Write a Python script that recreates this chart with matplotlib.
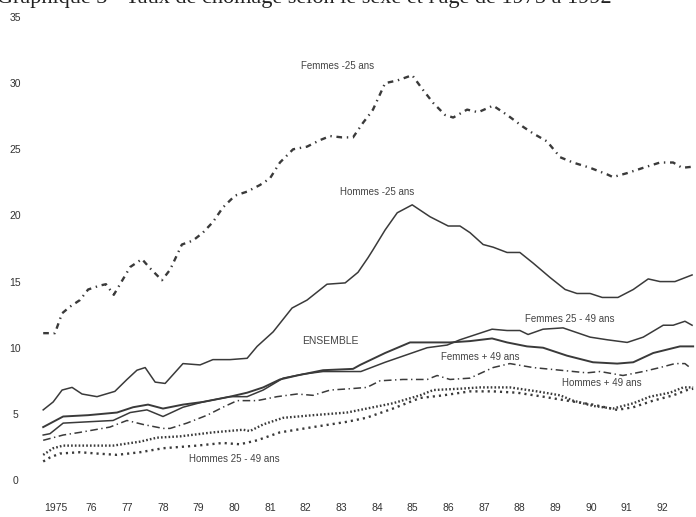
import matplotlib
matplotlib.use("Agg")
import matplotlib.pyplot as plt

plt.rcParams.update({
    "font.family": ["Liberation Sans", "DejaVu Sans"],
})

INK = "#3a3a3a"

# Taux de chomage (%) - lecture du graphique, x en annees
YEAR_TICKS = list(range(1975, 1993))
YEAR_LABELS = ["1975"] + [f"{y % 100:02d}" for y in range(1976, 1993)]
Y_TICKS = [0, 5, 10, 15, 20, 25, 30, 35]

femmes_m25_x = [1974.64, 1974.97, 1975.17, 1975.39, 1975.67, 1975.90, 1976.23, 1976.40,
                1976.62, 1977.08, 1977.41, 1977.64, 1977.97, 1978.20, 1978.53, 1978.84,
                1979.12, 1979.40, 1979.68, 1980.02, 1980.36, 1980.72, 1981.00, 1981.28,
                1981.65, 1982.04, 1982.41, 1982.69, 1983.02, 1983.33, 1983.61, 1983.81,
                1983.89, 1984.23, 1984.57, 1984.99, 1985.29, 1985.58, 1985.91, 1986.14,
                1986.53, 1986.84, 1987.26, 1987.65, 1988.10, 1988.38, 1988.77, 1989.14,
                1989.50, 1989.98, 1990.46, 1990.62, 1991.02, 1991.47, 1991.94, 1992.31,
                1992.56, 1992.92]
femmes_m25_y = [11.1, 11.1, 12.6, 13.1, 13.6, 14.4, 14.7, 14.8,
                14.0, 16.1, 16.7, 16.0, 15.1, 15.9, 17.8, 18.1,
                18.7, 19.5, 20.6, 21.5, 21.8, 22.3, 22.8, 24.0,
                25.0, 25.2, 25.7, 26.0, 25.9, 25.9, 27.0, 27.7,
                28.0, 30.0, 30.2, 30.6, 29.5, 28.5, 27.6, 27.4,
                28.0, 27.8, 28.3, 27.6, 26.7, 26.2, 25.6, 24.4,
                24.0, 23.6, 23.1, 22.9, 23.2, 23.6, 24.0, 24.0,
                23.6, 23.7]

hommes_m25_x = [1974.64, 1974.92, 1975.17, 1975.45, 1975.73, 1976.15, 1976.65, 1976.99,
                1977.27, 1977.50, 1977.78, 1978.06, 1978.56, 1979.04, 1979.40, 1979.88,
                1980.36, 1980.64, 1981.09, 1981.62, 1982.04, 1982.60, 1983.11, 1983.47,
                1983.75, 1983.89, 1984.23, 1984.57, 1984.99, 1985.49, 1986.00, 1986.33,
                1986.61, 1986.98, 1987.26, 1987.65, 1988.01, 1988.38, 1988.86, 1989.28,
                1989.61, 1989.98, 1990.32, 1990.76, 1991.19, 1991.61, 1991.94, 1992.36,
                1992.84]
hommes_m25_y = [5.3, 5.9, 6.8, 7.0, 6.5, 6.3, 6.7, 7.6,
                8.3, 8.5, 7.4, 7.3, 8.8, 8.7, 9.1, 9.1,
                9.2, 10.1, 11.2, 13.0, 13.6, 14.8, 14.9, 15.7,
                16.8, 17.4, 18.9, 20.2, 20.8, 19.9, 19.2, 19.2,
                18.7, 17.8, 17.6, 17.2, 17.2, 16.4, 15.3, 14.4,
                14.1, 14.1, 13.8, 13.8, 14.4, 15.2, 15.0, 15.0,
                15.5]

ensemble_x = [1974.64, 1975.20, 1975.90, 1976.71, 1977.16, 1977.58, 1978.00, 1978.56,
              1979.12, 1979.88, 1980.36, 1980.81, 1981.28, 1981.76, 1982.49, 1983.33,
              1983.53, 1984.23, 1984.93, 1986.05, 1986.61, 1987.23, 1987.65, 1988.21,
              1988.66, 1989.33, 1990.06, 1990.74, 1991.19, 1991.75, 1992.50, 1992.87]
ensemble_y = [4.0, 4.8, 4.9, 5.1, 5.5, 5.7, 5.4, 5.7,
              5.9, 6.3, 6.6, 7.0, 7.6, 7.9, 8.3, 8.4,
              8.7, 9.6, 10.4, 10.4, 10.5, 10.7, 10.4, 10.1,
              10.0, 9.4, 8.9, 8.8, 8.9, 9.6, 10.1, 10.1]

femmes_2549_x = [1974.64, 1974.83, 1975.20, 1976.60, 1977.08, 1977.55, 1978.00, 1978.56,
                 1979.12, 1979.88, 1980.36, 1980.81, 1981.37, 1981.93, 1982.49, 1983.55,
                 1984.23, 1985.41, 1985.97, 1986.33, 1987.23, 1987.65, 1988.01, 1988.24,
                 1988.66, 1989.22, 1989.98, 1990.46, 1991.02, 1991.47, 1992.03, 1992.31,
                 1992.64, 1992.84]
femmes_2549_y = [3.4, 3.5, 4.3, 4.5, 5.1, 5.3, 4.8, 5.5,
                 5.9, 6.3, 6.3, 6.8, 7.7, 8.0, 8.2, 8.2,
                 8.9, 10.0, 10.2, 10.6, 11.4, 11.3, 11.3, 11.0,
                 11.4, 11.5, 10.8, 10.6, 10.4, 10.8, 11.7, 11.7,
                 12.0, 11.7]

femmes_p49_x = [1974.64, 1975.20, 1975.67, 1976.51, 1976.99, 1977.44, 1978.00, 1978.20,
                1978.67, 1979.24, 1979.68, 1980.08, 1980.64, 1981.20, 1981.76, 1982.21,
                1982.69, 1983.25, 1983.72, 1984.09, 1984.73, 1985.41, 1985.69, 1986.05,
                1986.61, 1987.26, 1987.73, 1988.38, 1989.14, 1989.89, 1990.26, 1990.90,
                1991.47, 1991.94, 1992.36, 1992.64, 1992.78]
femmes_p49_y = [3.0, 3.4, 3.6, 4.0, 4.5, 4.2, 3.9, 3.9,
                4.3, 4.9, 5.5, 6.0, 6.0, 6.3, 6.5, 6.4,
                6.8, 6.9, 7.0, 7.5, 7.6, 7.6, 7.9, 7.6,
                7.7, 8.5, 8.8, 8.5, 8.3, 8.1, 8.2, 7.9,
                8.2, 8.5, 8.8, 8.8, 8.5]

hommes_p49_x = [1974.64, 1974.92, 1975.20, 1975.67, 1976.60, 1977.36, 1977.83, 1978.48,
                1979.40, 1980.25, 1980.44, 1980.81, 1981.37, 1982.21, 1983.16, 1983.53,
                1984.45, 1985.21, 1985.58, 1986.33, 1986.89, 1987.73, 1988.49, 1989.14,
                1989.50, 1990.06, 1990.62, 1991.19, 1991.66, 1992.22, 1992.59, 1992.87]
hommes_p49_y = [1.9, 2.4, 2.6, 2.6, 2.6, 2.9, 3.2, 3.3,
                3.6, 3.8, 3.7, 4.2, 4.7, 4.9, 5.1, 5.3,
                5.8, 6.4, 6.8, 6.9, 7.0, 7.0, 6.7, 6.4,
                6.0, 5.6, 5.4, 5.8, 6.3, 6.6, 7.0, 7.0]

hommes_2549_x = [1974.64, 1974.83, 1975.11, 1975.67, 1976.15, 1976.71, 1977.36, 1978.00,
                 1978.96, 1979.68, 1980.16, 1980.64, 1981.28, 1982.21, 1983.16, 1983.70,
                 1984.45, 1985.21, 1985.86, 1986.61, 1987.26, 1987.93, 1988.66, 1989.33,
                 1990.06, 1990.74, 1991.19, 1991.75, 1992.31, 1992.70, 1992.87]
hommes_2549_y = [1.4, 1.7, 2.0, 2.1, 2.0, 1.9, 2.1, 2.4,
                 2.6, 2.8, 2.7, 3.0, 3.6, 4.0, 4.4, 4.7,
                 5.4, 6.2, 6.4, 6.7, 6.7, 6.6, 6.3, 6.0,
                 5.7, 5.3, 5.5, 6.0, 6.4, 6.8, 6.9]

fig = plt.figure(figsize=(6.96, 5.17), dpi=100)
ax = fig.add_axes([30 / 696, 37 / 517, 666 / 696, 463 / 517])

ax.plot(femmes_m25_x, femmes_m25_y, color=INK, lw=1.7,
        linestyle=(0, (2.4, 2.0, 0.6, 2.0)))
ax.plot(hommes_m25_x, hommes_m25_y, color=INK, lw=1.1)
ax.plot(ensemble_x, ensemble_y, color=INK, lw=1.4)
ax.plot(femmes_2549_x, femmes_2549_y, color=INK, lw=1.1)
ax.plot(femmes_p49_x, femmes_p49_y, color=INK, lw=1.1,
        linestyle=(0, (5, 2.3, 0.9, 2.3)))
ax.plot(hommes_p49_x, hommes_p49_y, color=INK, lw=1.7,
        linestyle=(0, (0.7, 0.9)))
ax.plot(hommes_2549_x, hommes_2549_y, color=INK, lw=1.7,
        linestyle=(0, (0.9, 1.7)))

lab = dict(color="#444444", fontsize=7, ha="center", va="center")
ax.text(1982.9, 31.3, "Femmes -25 ans", **lab)
ax.text(1984.0, 21.8, "Hommes -25 ans", **lab)
ax.text(1982.7, 10.5, "ENSEMBLE", color="#444444", fontsize=7.5, ha="center", va="center")
ax.text(1989.4, 12.2, "Femmes 25 - 49 ans", **lab)
ax.text(1986.9, 9.3, "Femmes + 49 ans", **lab)
ax.text(1990.3, 7.3, "Hommes + 49 ans", **lab)
ax.text(1980.0, 1.6, "Hommes 25 - 49 ans", **lab)

ax.set_xlim(1974.27, 1992.95)
ax.set_ylim(0, 35)
ax.set_xticks(YEAR_TICKS)
ax.set_xticklabels(YEAR_LABELS)
ax.set_yticks(Y_TICKS)
ax.tick_params(axis="both", length=0, labelsize=7.5, labelcolor="#333333")
ax.tick_params(axis="x", pad=16.5)
ax.tick_params(axis="y", pad=10.5)
for t in ax.get_yticklabels():
    t.set_horizontalalignment("center")
for s in ax.spines.values():
    s.set_visible(False)

# titre du document, coupe en haut de la numerisation
fig.text(-0.005, 0.994, "Graphique 3 - Taux de chômage selon le sexe et l'âge de 1975 à 1992",
         family=["Liberation Serif", "DejaVu Serif"], fontsize=16, color="#222222",
         ha="left", va="baseline")

fig.savefig("out.png", dpi=100, facecolor="white")
